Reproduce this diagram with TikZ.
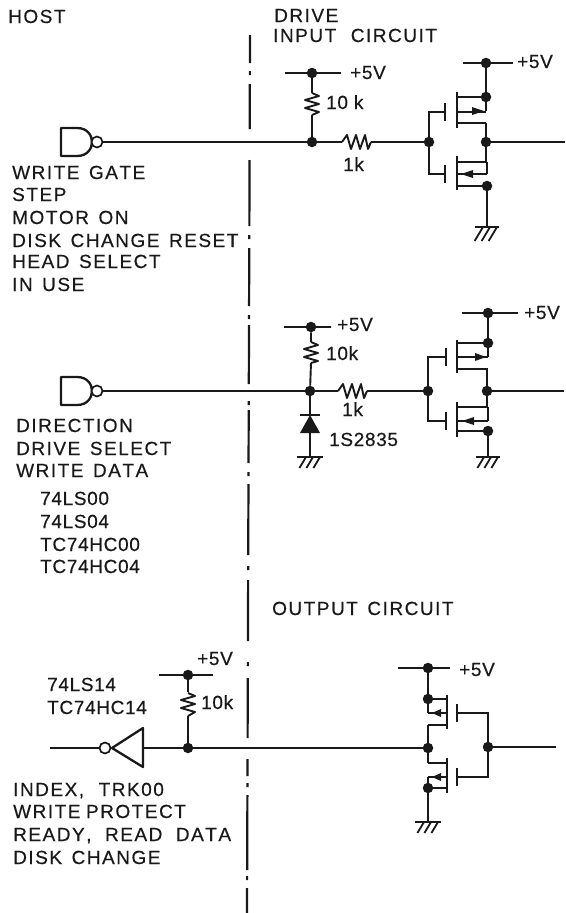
\documentclass[tikz,border=0pt]{standalone}
\usepackage{fontspec}
\setmainfont{Liberation Sans}[LetterSpace=8,Kerning=Off,WordSpace=1.4,FakeBold=0.4]
\newfontfamily\numf{Liberation Sans}[LetterSpace=3.5,Kerning=Off,FakeBold=0.4]
\begin{document}
\begin{tikzpicture}[x=1pt,y=-1pt,
  wire/.style={line width=1.9pt,black!90},
  gate/.style={line width=2.3pt,black!90,line join=round},
  dotn/.style={circle,fill=black!90,inner sep=0pt,minimum size=10.5pt},
  bubble/.style={circle,draw=black!90,line width=1.7pt,fill=white,inner sep=0pt,minimum size=11pt},
  lab/.style={anchor=base west,inner sep=0pt,font=\fontsize{19}{21}\selectfont,text=black!90},
  numlab/.style={anchor=base west,inner sep=0pt,font=\fontsize{19}{21}\selectfont\numf,text=black!90},
  cut/.style={line width=2.2pt,black!90}]
\useasboundingbox (0,0) rectangle (565,913);
\fill[white] (0,0) rectangle (565,913);
\newcommand\vres[3]{\draw[wire,line join=round] (#1,#2) -- (#1+7,#2+3) -- (#1-7,#2+7) -- (#1+7,#2+11) -- (#1-7,#2+15) -- (#1+7,#2+19) -- (#1,#3);}
\newcommand\hres[3]{\draw[wire,line join=round] (#1,#3) -- (#1+5,#3-7) -- (#1+9,#3+7) -- (#1+14,#3-7) -- (#1+18,#3+7) -- (#1+23,#3-7) -- (#2,#3+7) -- (#2+3,#3);}
\newcommand\gnd[4]{\draw[wire] (#1-#3,#2) -- (#1+#3,#2);
  \draw[line width=1.8pt,black!90] (#1+10,#2) -- (#1+10-#4*.6,#2+#4) (#1+3,#2) -- (#1+3-#4*.6,#2+#4) (#1-4,#2) -- (#1-4-#4*.6,#2+#4);}
% bar x, channel x, rail x, top, tap1, gate y, tap2, bottom
\newcommand\fet[8]{\draw[wire,line width=2.4pt] (#1,#6-9) -- (#1,#6+9);
  \draw[wire,line width=2.4pt] (#2,#4) -- (#2,#8);
  \draw[wire] (#3,#5) -- (#2,#5) (#3,#6) -- (#2,#6) (#3,#7) -- (#2,#7);}
\newcommand\fettip[3]{\fill[black!90] (#1,#3) -- (#2,#3-4) -- (#2,#3+4) -- cycle;}
% dash-dot boundary
\foreach \a/\b in {35/63,71/75,84/129,160/226,235/239,248/306,315/319,325/384,401/405,410/463,472/476,484/555,566/570,580/641,662/666,678/738,759/776,783/787,795/870,876/880,888/913}
  \draw[cut] ({250-(\a-35)*3/878},\a) -- ({250-(\b-35)*3/878},\b);

% headings
\node[lab] (host) at (8,23) {HOST};
\node[lab] (drive) at (274,22) {DRIVE};
\node[lab] (inputc) at (273,42) {INPUT\hspace{5pt} CIRCUIT};
\node[lab] (outc) at (272,615) {OUTPUT CIRCUIT};

% ---- circuit 1
\draw[gate,fill=white] (61,128) -- (77,128) .. controls (88,128) and (92,136) .. (92,142) .. controls (92,148) and (88,156) .. (77,156) -- (61,156) -- cycle;
\node[bubble] (b1) at (97,142) {};
\node[dotn] (a1) at (312,142) {};
\node[dotn] (a2) at (312,73) {};
\node[dotn] (a3) at (429,142) {};
\node[dotn] (a4) at (486,142) {};
\node[dotn] (a5) at (486,63) {};
\node[dotn] (a6) at (486,97) {};
\node[dotn] (a7) at (487,186) {};
\coordinate (a2l) at (285,73); \coordinate (a2r) at (341,73);
\coordinate (a5l) at (463,63); \coordinate (a5r) at (513,63);
\coordinate (a1o) at (565,142);
\coordinate (r1t) at (312,93); \coordinate (r1b) at (312,115);
\coordinate (r2l) at (342,142); \coordinate (r2r) at (371,142);
\coordinate (g1) at (487,227);
\draw[wire] (b1) -- (r2l) (r2r) -- (a3) (a4) -- (a1o);
\draw[wire] (a2l) -- (a2r) (a2) -- (r1t) (r1b) -- (a1);
\draw[wire] (a5l) -- (a5r) (a5) -- (486,111) (486,123) -- (a4) -- (486,162) (a7) -- (g1);
\draw[wire] (a3) -- (429,112) -- (445,112) (a3) -- (429,174) -- (445,174);
\vres{312}{93}{115}
\hres{342}{368}{142}
\fet{445}{457}{486}{92}{97}{112}{123}{128}
\fet{445}{457}{487}{156}{162}{174}{186}{190}
\fettip{484}{472}{111}
\fettip{461}{473}{174}
\draw[wire] (487,162) -- (487,174);
\gnd{487}{227}{12}{14}
\node[numlab] (p1) at (350,79) {+5V};
\node[numlab] (p2) at (517,68) {+5V};
\node[numlab] (k1) at (326,109) {10 k};
\node[numlab] (k2) at (343,171) {1k};
\node[lab] (t1) at (12,179) {WRITE GATE};
\node[lab] (t2) at (12,201) {STEP};
\node[lab] (t3) at (12,224) {MOTOR ON};
\node[lab] (t4) at (12,247) {DISK CHANGE RESET};
\node[lab] (t5) at (12,268) {HEAD SELECT};
\node[lab] (t6) at (12,291) {IN USE};

% ---- circuit 2
\draw[gate,fill=white] (61,377) -- (77,377) .. controls (88,377) and (92,385) .. (92,391) .. controls (92,397) and (88,405) .. (77,405) -- (61,405) -- cycle;
\node[bubble] (b2) at (97,391) {};
\node[dotn] (c1) at (310,391) {};
\node[dotn] (c2) at (311,327) {};
\node[dotn] (c3) at (428,391) {};
\node[dotn] (c4) at (487,391) {};
\node[dotn] (c5) at (488,313) {};
\node[dotn] (c6) at (488,343) {};
\node[dotn] (c7) at (488,431) {};
\coordinate (c2l) at (284,327); \coordinate (c2r) at (331,327);
\coordinate (c5l) at (462,313); \coordinate (c5r) at (518,313);
\coordinate (c1o) at (564,391);
\coordinate (s1t) at (311,342); \coordinate (s1b) at (311,363);
\coordinate (s2l) at (338,391); \coordinate (s2r) at (367,391);
\coordinate (g2) at (488,457);
\coordinate (d1t) at (310,415); \coordinate (d1b) at (310,433); \coordinate (g3) at (310,457);
\draw[wire] (b2) -- (s2l) (s2r) -- (c3) (c4) -- (c1o);
\draw[wire] (c2l) -- (c2r) (c2) -- (s1t) (s1b) -- (c1);
\draw[wire] (c1) -- (d1t) (d1b) -- (g3);
\draw[wire] (300,415) -- (320,415);
\fill[black!90] (d1t) -- (320,433) -- (300,433) -- cycle;
\gnd{310}{457}{13}{11}
\draw[wire] (c5l) -- (c5r) (c5) -- (488,357) (487,369) -- (c4) -- (487,407) (c7) -- (g2);
\draw[wire] (c3) -- (428,357) -- (446,357) (c3) -- (428,421) -- (446,421);
\vres{311}{342}{363}
\hres{338}{364}{391}
\fet{446}{457}{488}{340}{343}{357}{369}{373}
\fet{446}{457}{488}{402}{407}{421}{431}{437}
\fettip{486}{475}{357}
\fettip{462}{474}{421}
\draw[wire] (488,407) -- (488,421);
\gnd{488}{457}{12}{11}
\node[numlab] (p3) at (337,331) {+5V};
\node[numlab] (p4) at (524,319) {+5V};
\node[numlab] (k3) at (326,360) {10k};
\node[numlab] (k4) at (342,416) {1k};
\node[numlab] (k5) at (329,446) {1S2835};
\node[lab] (u1) at (16,432) {DIRECTION};
\node[lab] (u2) at (16,455) {DRIVE SELECT};
\node[lab] (u3) at (16,477) {WRITE DATA};
\node[numlab] (u4) at (40,505) {74LS00};
\node[numlab] (u5) at (40,528) {74LS04};
\node[numlab] (u6) at (40,551) {TC74HC00};
\node[numlab] (u7) at (40,573) {TC74HC04};

% ---- output circuit
\coordinate (i0) at (50,748);
\node[bubble] (b3) at (105,748) {};
\draw[gate] (143,728) -- (143,767) -- (112,748) -- cycle;
\coordinate (i1) at (143,748);
\node[dotn] (e1) at (188,748) {};
\node[dotn] (e2) at (188,675) {};
\coordinate (e2l) at (159,675); \coordinate (e2r) at (213,675);
\coordinate (v1t) at (188,692); \coordinate (v1b) at (188,716);
\node[dotn] (f1) at (428,748) {};
\node[dotn] (f2) at (428,668) {};
\node[dotn] (f3) at (428,699) {};
\node[dotn] (f4) at (428,788) {};
\node[dotn] (f5) at (488,747) {};
\coordinate (f2l) at (398,668); \coordinate (f2r) at (450,668);
\coordinate (fo) at (556,747);
\coordinate (g4) at (428,822);
\draw[wire] (i0) -- (b3);
\draw[wire] (i1) -- (e1) -- (f1);
\draw[wire] (f5) -- (fo);
\draw[wire] (e2l) -- (e2r) (e2) -- (v1t) (v1b) -- (e1);
\vres{188}{693}{716}
\draw[wire] (f2l) -- (f2r) (f2) -- (428,713) (428,725) -- (f1) -- (428,763) (428,777) -- (g4);
\draw[wire] (f5) -- (488,713) -- (457,713) (f5) -- (488,777) -- (457,777);
\fet{457}{447}{428}{695}{699}{713}{725}{729}
\fet{457}{447}{428}{758}{763}{777}{788}{793}
\fettip{432}{441}{713}
\fettip{432}{441}{777}
\gnd{428}{822}{13}{11}
\node[numlab] (p5) at (197,665) {+5V};
\node[numlab] (p6) at (459,676) {+5V};
\node[numlab] (k6) at (201,709) {10k};
\node[numlab] (w1) at (47,691) {74LS14};
\node[numlab] (w2) at (47,714) {TC74HC14};
\node[lab] (w3) at (13,796) {INDEX,\hspace{5pt} TRK00};
\node[lab] (w4) at (13,818) {WRITE\hspace{-4pt} PROTECT};
\node[lab] (w5) at (13,841) {READY,\hspace{4pt} READ\hspace{4pt} DATA};
\node[lab] (w6) at (13,864) {DISK CHANGE};
\end{tikzpicture}
\end{document}
